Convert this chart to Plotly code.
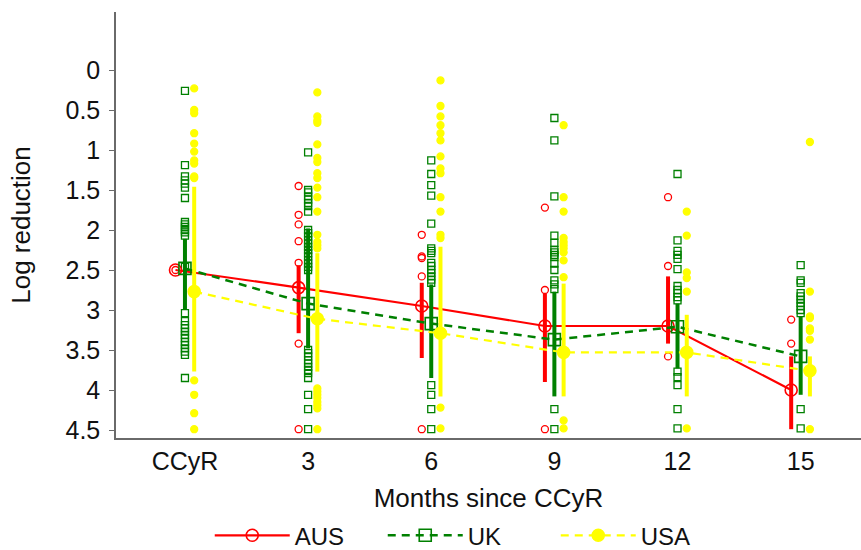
import plotly.graph_objects as go

# ---- data -----------------------------------------------------------------
categories = ["CCyR", "3", "6", "9", "12", "15"]
tick_values = [0, 0.5, 1, 1.5, 2, 2.5, 3, 3.5, 4, 4.5]
tick_labels = ["0", "0.5", "1", "1.5", "2", "2.5", "3", "3.5", "4", "4.5"]

# summary per time point: centre value and the two ends of the vertical bar
aus_mean = [2.5, 2.72, 2.95, 3.2, 3.2, 4.0]
aus_low = [2.5, 2.44, 2.66, 2.8, 2.58, 3.58]
aus_high = [2.5, 3.29, 3.6, 3.9, 3.42, 4.49]

uk_mean = [2.48, 2.92, 3.17, 3.37, 3.21, 3.58]
uk_low = [2.11, 1.98, 2.68, 2.77, 2.92, 3.08]
uk_high = [3.0, 3.48, 3.85, 4.08, 3.73, 4.06]

usa_mean = [2.77, 3.11, 3.29, 3.53, 3.53, 3.76]
usa_low = [1.46, 2.29, 2.21, 2.67, 3.06, 3.58]
usa_high = [3.77, 3.77, 4.08, 4.08, 4.08, 4.08]

# individual patient values per time point
aus_points = [
    [2.5],
    [1.45, 1.81, 1.93, 2.14, 2.41, 3.42, 4.49],
    [2.06, 2.33, 2.35, 2.58, 4.49],
    [1.72, 2.75, 4.49],
    [1.59, 2.45, 3.58],
    [3.12, 3.42],
]
uk_points = [
    [0.26, 1.19, 1.33, 1.38, 1.42, 1.47, 1.6, 1.9, 1.93, 1.96, 2.0, 2.03, 2.07,
     2.46, 3.04, 3.14, 3.19, 3.23, 3.27, 3.31, 3.35, 3.4, 3.44, 3.48, 3.52,
     3.56, 3.85],
    [1.03, 1.5, 1.53, 1.58, 1.62, 1.66, 1.7, 1.77, 2.0, 2.04, 2.08, 2.13, 2.17,
     2.21, 2.25, 2.29, 2.33, 2.38, 2.42, 2.46, 2.5, 3.5, 3.54, 3.58, 3.63,
     3.67, 3.71, 3.75, 3.79, 3.85, 4.06, 4.24, 4.49],
    [1.13, 1.3, 1.44, 1.57, 1.92, 2.23, 2.26, 2.29, 2.41, 2.45, 2.5, 2.54,
     2.58, 2.62, 2.66, 3.94, 4.06, 4.24, 4.49],
    [0.6, 0.88, 1.58, 2.07, 2.16, 2.25, 2.28, 2.31, 2.34, 2.42, 2.5, 2.63,
     2.68, 2.74, 4.24, 4.49],
    [1.3, 2.13, 2.26, 2.31, 2.36, 2.49, 2.7, 2.75, 2.79, 2.84, 2.88, 3.77,
     3.84, 3.94, 4.24, 4.48],
    [2.44, 2.63, 2.66, 2.79, 2.83, 2.87, 2.91, 2.95, 3.0, 3.04, 4.24, 4.48],
]
usa_points = [
    [0.23, 0.5, 0.54, 0.79, 0.92, 1.02, 1.13, 1.17, 1.33, 1.35, 3.88, 4.06,
     4.29, 4.49],
    [0.28, 0.58, 0.63, 0.66, 0.93, 1.1, 1.15, 1.29, 1.35, 1.47, 1.59, 1.77,
     2.06, 2.15, 2.19, 2.23, 3.98, 4.02, 4.06, 4.1, 4.15, 4.19, 4.23, 4.49],
    [0.13, 0.45, 0.58, 0.69, 0.79, 0.88, 1.08, 1.23, 1.29, 1.59, 1.77, 2.06,
     2.1, 4.22, 4.48],
    [0.69, 1.59, 1.77, 2.1, 2.15, 2.19, 2.23, 2.28, 2.38, 2.59, 4.38, 4.48],
    [1.77, 2.07, 2.53, 2.6, 2.77, 4.48],
    [0.9, 2.77, 3.08, 3.1, 3.23, 3.26, 3.37, 4.49],
]

# ---- styling ---------------------------------------------------------------
RED = "#ff0000"
GREEN = "#008000"
YELLOW = "#ffff00"
FONT = "Liberation Sans, Arial, sans-serif"

series = [
    dict(name="AUS", color=RED, shift=-0.077, mean=aus_mean, low=aus_low,
         high=aus_high, pts=aus_points, symbol="circle-open", dash="solid",
         lw=2.2),
    dict(name="UK", color=GREEN, shift=0.0, mean=uk_mean, low=uk_low,
         high=uk_high, pts=uk_points, symbol="square-open", dash="8px,6px",
         lw=2.5),
    dict(name="USA", color=YELLOW, shift=0.075, mean=usa_mean, low=usa_low,
         high=usa_high, pts=usa_points, symbol="circle", dash="8px,6px",
         lw=2.2),
]

fig = go.Figure()

# individual values
for s in series:
    xs, ys = [], []
    for i, vals in enumerate(s["pts"]):
        xs += [i + s["shift"]] * len(vals)
        ys += vals
    fig.add_trace(go.Scatter(
        x=xs, y=ys, mode="markers", showlegend=False, hoverinfo="skip",
        marker=dict(symbol=s["symbol"], size=7, color=s["color"],
                    line=dict(width=1.3, color=s["color"])),
    ))

# summary lines with vertical bars
for s in series:
    x = [i + s["shift"] for i in range(len(categories))]
    plus = [h - m for h, m in zip(s["high"], s["mean"])]
    minus = [m - l for m, l in zip(s["mean"], s["low"])]
    fig.add_trace(go.Scatter(
        x=x, y=s["mean"], mode="lines+markers", name=s["name"],
        line=dict(color=s["color"], width=s["lw"], dash=s["dash"]),
        marker=dict(symbol=s["symbol"], size=12, color=s["color"],
                    line=dict(width=1.6, color=s["color"])),
        error_y=dict(type="data", symmetric=False, array=plus,
                     arrayminus=minus, color=s["color"], thickness=4,
                     width=0),
    ))

fig.update_layout(
    width=861, height=550,
    margin=dict(l=116, r=0, t=12, b=112),
    paper_bgcolor="white", plot_bgcolor="white",
    font=dict(family=FONT, size=25, color="#111111"),
    showlegend=True,
    legend=dict(orientation="h", xref="container", yref="container",
                x=0.545, xanchor="center", y=0.026, yanchor="middle",
                font=dict(size=24), itemwidth=75,
                entrywidth=83, entrywidthmode="pixels",
                bgcolor="rgba(0,0,0,0)"),
    xaxis=dict(
        range=[-0.56, 5.49], tickmode="array",
        tickvals=list(range(len(categories))), ticktext=categories,
        showline=True, linecolor="#6a6a6a", linewidth=1.5, ticks="",
        showgrid=False, zeroline=False, ticklabelstandoff=0,
        automargin=False,
        title=dict(text="Months since CCyR", standoff=19,
                   font=dict(size=26)),
    ),
    yaxis=dict(
        range=[4.6, -0.725], tickmode="array", tickvals=tick_values,
        ticktext=tick_labels, showline=True, linecolor="#6a6a6a",
        linewidth=1.5, ticks="outside", ticklen=5, tickcolor="#6a6a6a",
        showgrid=False, zeroline=False, ticklabelstandoff=4,
        automargin=False,
        title=dict(text="Log reduction", standoff=27, font=dict(size=26)),
    ),
)

fig.write_html("out.html")
